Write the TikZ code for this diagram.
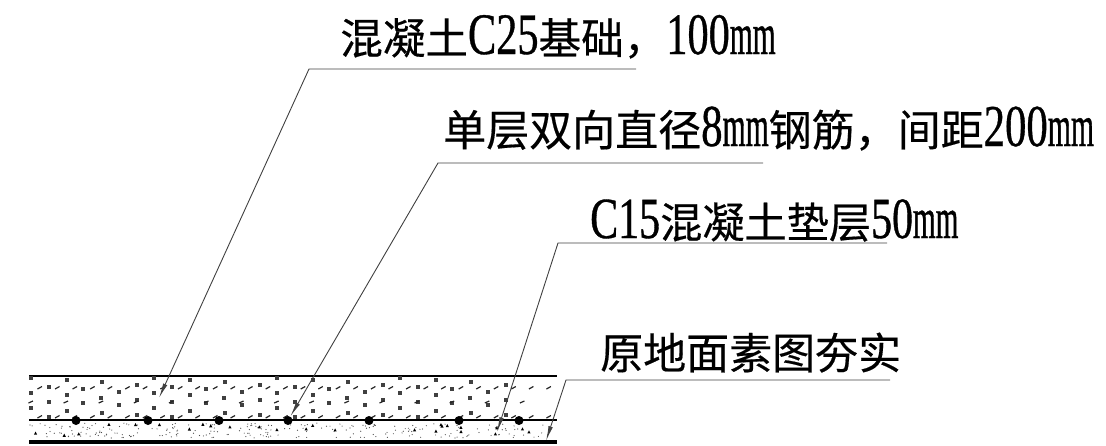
\documentclass[tikz,border=0pt]{standalone}
\usepackage{fontspec}
\usetikzlibrary{arrows.meta}
\newfontfamily\cjkfont[FakeBold=0.4]{Noto Sans CJK SC}
\newfontfamily\latfont[FakeStretch=0.72,FakeBold=0.6,Scale=1.38]{Liberation Serif}
\newfontfamily\mmfont[FakeStretch=0.5,FakeBold=0.6,Scale=1.38]{Liberation Serif}
\newcommand{\lat}[1]{{\latfont #1}}
\newcommand{\mmunit}{{\mmfont mm}}
\begin{document}
\begin{tikzpicture}[x=1pt, y=-1pt,
        leader/.style={draw=black!75, line width=0.9pt},
        tip/.style={-{Latex[length=15pt,width=4.5pt]}},
        layer/.style={draw=black, line width=2pt},
        callout/.style={anchor=base west, inner sep=0pt, font=\cjkfont\fontsize{43pt}{43pt}\selectfont}]
    \useasboundingbox (0,0) rectangle (1106,445);

    % labels
    \node[callout, font=\cjkfont\fontsize{42.6pt}{43pt}\selectfont] (top) at (340,54) {混凝土\lat{C25}基础，\lat{100}\mmunit};
    \node[callout] (rebar) at (443,146) {单层双向直径\lat{8}\mmunit 钢筋，间距\lat{200}\mmunit};
    \node[callout, font=\cjkfont\fontsize{42.2pt}{43pt}\selectfont] (pad) at (590,238) {\lat{C15}混凝土垫层\lat{50}\mmunit};
    \node[callout] (soil) at (600,369) {原地面素图夯实};

    % layers
    \coordinate (topL) at (29,376);
    \coordinate (topR) at (557,376);
    \coordinate (midL) at (29,420);
    \coordinate (midR) at (557,420);
    \coordinate (botL) at (29,441.5);
    \coordinate (botR) at (557,441.5);
    \draw[layer] (topL) -- (topR);
    \draw[layer] (midL) -- (midR);
    \draw[layer, line width=4pt] (botL) -- (botR);

    % concrete hatch, repeats along the slab
    \foreach \s in {0,123,246,369} {
        \foreach \x/\y in {31/378,67/380,49/387,31/393,83/389,67/395,102/382,119/392,101/398,
                           49/402,67/411,31/408,83/403,102/413,119/405,137/385,137/400,137/415,49/417} {
            \pgfmathsetmacro{\px}{\x+\s}
            \ifdim \px pt<556pt
                \fill[black!75] (\px-2.2,\y-1.6) rectangle (\px+2.2,\y+1.6);
            \fi
        }
    }
    \foreach \y in {388,417} {
        \foreach \n in {0,...,29} {
            \pgfmathsetmacro{\px}{40+17.55*\n}
            \draw[line width=1.2pt, black!85] (\px-2.5,\y+1) -- (\px+2,\y-1.5);
        }
    }
    \foreach \n in {0,...,14} {
        \pgfmathsetmacro{\px}{31+35.1*\n}
        \draw[line width=1.2pt, black!85] (\px-2.5,403) -- (\px+2,401);
    }

    % gravel in the lower layer
    \pgfmathsetseed{7}
    \foreach \n in {1,...,240} {
        \pgfmathsetmacro{\px}{30+rnd*526}
        \pgfmathsetmacro{\py}{423+rnd*15}
        \fill[black!70] (\px,\py) circle (0.6);
    }
    \foreach \n in {1,...,26} {
        \pgfmathsetmacro{\px}{32+rnd*520}
        \pgfmathsetmacro{\py}{424+rnd*13}
        \fill[black] (\px-1.6,\py+1.3) -- (\px,\py-1.8) -- (\px+1.6,\py+1.3) -- cycle;
    }

    % bars
    \foreach \x [count=\i] in {76,148,219,288,369,459,519} {
        \node[circle, fill=black, inner sep=0pt, minimum size=9pt] (bar\i) at (\x,420.5) {};
    }

    % leaders
    \coordinate (topA) at (636,69);
    \coordinate (topB) at (309,69);
    \coordinate (topC) at (159,398);
    \coordinate (rebarA) at (763,163);
    \coordinate (rebarB) at (438,163);
    \coordinate (pinA) at (887,243);
    \coordinate (pinB) at (558,243);
    \coordinate (pinC) at (497,432);
    \coordinate (soilA) at (890,380);
    \coordinate (soilB) at (566,380);
    \coordinate (soilC) at (546,441);
    \draw[leader, tip] (topA) -- (topB) -- (topC);
    \draw[leader, tip] (rebarA) -- (rebarB) -- (bar4);
    \draw[leader, tip] (pinA) -- (pinB) -- (pinC);
    \draw[leader, tip] (soilA) -- (soilB) -- (soilC);
\end{tikzpicture}
\end{document}
